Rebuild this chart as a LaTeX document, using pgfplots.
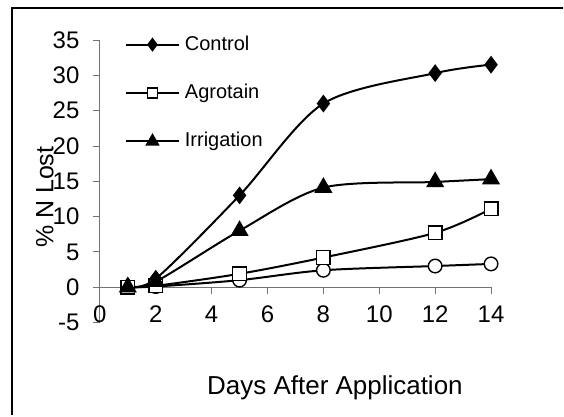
\documentclass[border=0pt]{standalone}
\usepackage{pgfplots}
\pgfplotsset{compat=1.18}
\usepackage{fontspec}
\setmainfont{Liberation Sans}
\begin{document}
\begin{tikzpicture}
\begin{axis}[
  scale only axis, width=391.7pt, height=283pt,
  xmin=0, xmax=14, ymin=-5, ymax=35,
  axis x line=middle, axis y line=left,
  axis line style={-, draw=black!55, line width=0.8pt},
  xtick={0,2,...,14}, ytick={-5,0,...,35},
  hide obscured x ticks=false,
  tick style={draw=black!55, line width=0.8pt},
  xtick align=outside, ytick align=outside,
  major tick length=7pt,
  /pgf/number format/assume math mode=true,
  tick label style={font=\fontsize{24}{24}\selectfont},
  yticklabel style={xshift=-10pt},
  xticklabel style={yshift=-8pt},
  clip=false,
  xlabel={Days After Application},
  ylabel={\% N Lost},
  xlabel style={font=\fontsize{26}{26}\selectfont, at={(rel axis cs:0.601,-0.2297)}, anchor=center},
  ylabel style={font=\fontsize{25}{25}\selectfont, at={(rel axis cs:-0.1404,0.4435)}, anchor=center, rotate=0},
  legend style={at={(rel axis cs:0.0638,1.0177)}, anchor=north west, draw=none, fill=none,
    inner sep=0pt, row sep=29.5pt, font=\fontsize{20}{20}\selectfont,
    nodes={inner sep=0pt, text height=15pt, text depth=4pt},
    /tikz/every odd column/.append style={column sep=5pt}},
  legend cell align=left,
  legend image code/.code={\draw[mark repeat=2,mark phase=2,every mark/.append style={scale=0.75}] plot coordinates {(0pt,0pt) (26.5pt,0pt) (53pt,0pt)};},
]
\path (rel axis cs:-0.2553,-0.3286) rectangle (rel axis cs:1.1846,1.1413);
\draw[line width=1.5pt] (rel axis cs:-0.2247,-0.3286) -- (rel axis cs:-0.2247,1.1131) -- (rel axis cs:1.1846,1.1131);

\addplot[black, line width=2pt, smooth, tension=0.5, mark=*, mark size=6.8pt, mark options={solid, fill=white, line width=1.4pt}, forget plot]
  coordinates {(1,0)(2,0.1)(5,1.0)(8,2.4)(12,3.0)(14,3.3)};
\addplot[black, line width=2pt, smooth, tension=0.5, mark=diamond*, mark size=7.3pt, mark options={solid, fill=black}]
  coordinates {(1,0.2)(2,1.2)(5,13.0)(8,26.0)(12,30.3)(14,31.5)};
\addlegendentry{Control}
\addplot[black, line width=2pt, smooth, tension=0.5, mark=square*, mark size=6.8pt, mark options={solid, fill=white, line width=1.4pt}]
  coordinates {(1,0)(2,0.2)(5,1.9)(8,4.2)(12,7.7)(14,11.1)};
\addlegendentry{Agrotain}
\addplot[black, line width=2pt, smooth, tension=0.5, mark=triangle*, mark size=8.5pt, mark options={solid, fill=black}]
  coordinates {(1,0)(2,0.8)(5,8.0)(8,14.1)(12,14.9)(14,15.3)};
\addlegendentry{Irrigation}
\end{axis}
\end{tikzpicture}
\end{document}
